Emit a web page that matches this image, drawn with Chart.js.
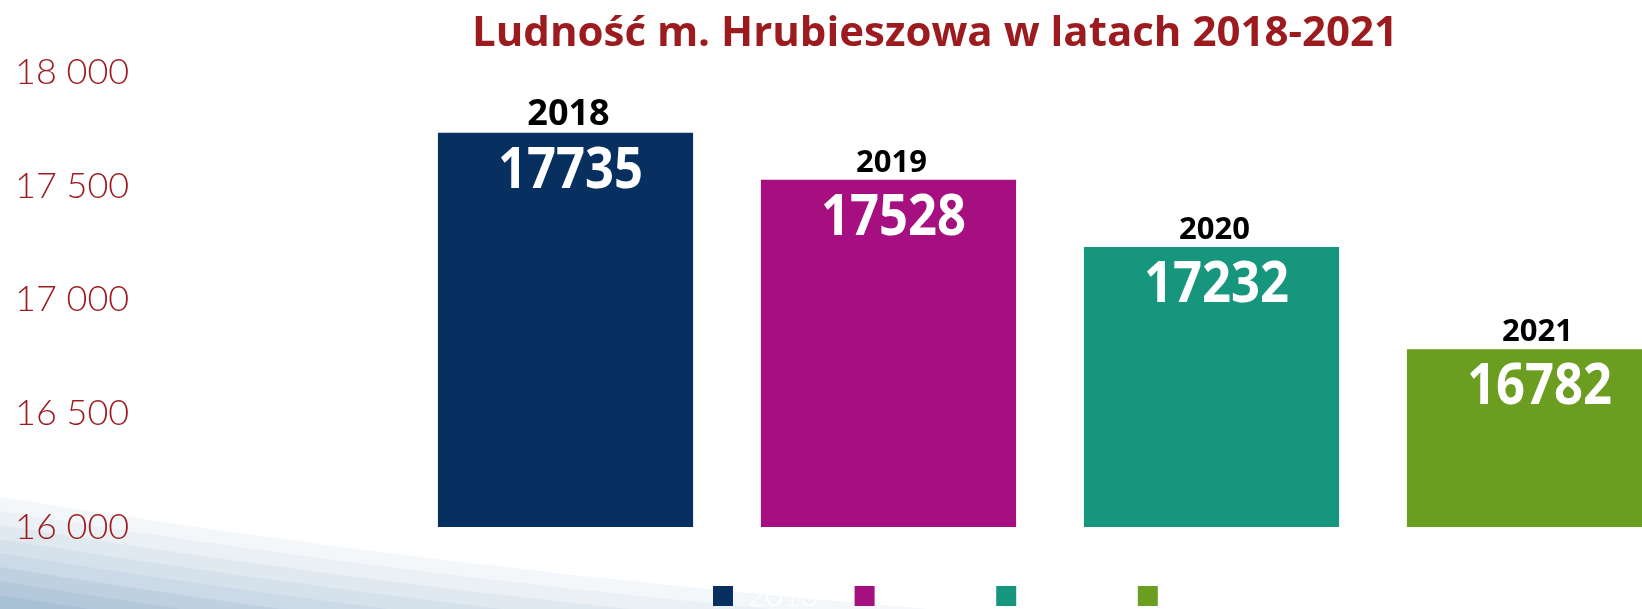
<!DOCTYPE html>
<html>
<head>
<meta charset="utf-8">
<script src="https://cdn.jsdelivr.net/npm/chart.js@4"></script>
<style>
  html, body { margin: 0; padding: 0; background: #fff; overflow: hidden; }
  #chart { position: absolute; left: 0; top: 0; }
</style>
</head>
<body>
<canvas id="chart" width="1700" height="609"></canvas>
<script>
// data
var years = ["2018", "2019", "2020", "2021"];
var population = [17735, 17528, 17232, 16782];
var yTicks = [16000, 16500, 17000, 17500, 18000];

// styling
var barColors = ["#073061", "#a60f80", "#16967d", "#6b9d20"];
var yearFontSize = [36, 31, 31, 31];
var darkRed = "#9b1b1f";

function spaced(v){
    return String(v).replace(/\B(?=(\d{3})+(?!\d))/g, " ");
}

// light blue slide swoosh in the bottom left corner
var swoosh = {
    id: "swoosh",
    beforeDraw: function(chart){
        var ctx = chart.ctx;
        var bands = ["#f4f7fa", "#ebf0f5", "#e1e9f0", "#d6e2eb", "#cbdae6", "#bfd1e0", "#b3c9db", "#a8c1d5"];
        var h = chart.height;
        ctx.save();
        bands.forEach(function(c, i){
            var d = 14 * i;
            ctx.beginPath();
            ctx.moveTo(0, 497 + d);
            ctx.quadraticCurveTo(450, 570 + d, 929, 609 + d);
            ctx.lineTo(0, h + 200);
            ctx.closePath();
            ctx.fillStyle = c;
            ctx.fill();
        });
        ctx.restore();
    }
};

// move title and legend to where the slide had them
var placeBoxes = {
    id: "placeBoxes",
    afterLayout: function(chart){
        var t = chart.titleBlock;
        var dx = 935 - (t.left + t.right) / 2;
        t.left += dx; t.right += dx;
        var lg = chart.legend;
        var pad = lg.options.labels.padding;
        lg.left = 713 - pad; lg.right = lg.left + lg.width;
        lg.top = 586 - pad - 5; lg.bottom = lg.top + lg.height;
    }
};

// year above bar, value inside bar top
var barLabels = {
    id: "barLabels",
    afterDatasetsDraw: function(chart){
        var ctx = chart.ctx;
        var meta = chart.getDatasetMeta(0);
        ctx.save();
        ctx.textAlign = "center";
        ctx.textBaseline = "alphabetic";
        meta.data.forEach(function(bar, i){
            ctx.fillStyle = "#000";
            ctx.font = "bold " + yearFontSize[i] + "px 'Open Sans'";
            ctx.fillText(years[i], bar.x + 3, bar.y - 8);
            ctx.fillStyle = "#fff";
            ctx.font = "bold 57px 'Open Sans'";
            ctx.fillText(String(population[i]), bar.x + 5, bar.y + 55, 145);
        });
        ctx.restore();
    }
};

new Chart(document.getElementById("chart"), {
    type: "bar",
    data: {
        labels: years,
        datasets: [{
            label: "Ludność",
            data: population,
            backgroundColor: barColors,
            borderWidth: 0,
            categoryPercentage: 1,
            barPercentage: 0.79
        }]
    },
    options: {
        responsive: false,
        animation: false,
        devicePixelRatio: 1,
        layout: { padding: { top: 0, left: 15, right: 4, bottom: 5 } },
        plugins: {
            title: {
                display: true,
                text: "Ludność m. Hrubieszowa w latach 2018-2021",
                color: darkRed,
                font: { family: "'Open Sans'", weight: "bold", size: 42 },
                padding: { top: 9, bottom: 13 }
            },
            legend: {
                display: true,
                position: "bottom",
                align: "start",
                onClick: null,
                labels: {
                    boxWidth: 20,
                    boxHeight: 20,
                    padding: 37,
                    color: "#ffffff",
                    font: { family: "Lato", weight: "300", size: 30 },
                    generateLabels: function(chart){
                        return years.map(function(y, i){
                            return { text: y, fillStyle: barColors[i], strokeStyle: barColors[i],
                                     lineWidth: 0, hidden: false, index: i, fontColor: "#ffffff" };
                        });
                    }
                }
            },
            tooltip: { enabled: false }
        },
        scales: {
            x: { display: false },
            y: {
                min: yTicks[0],
                max: yTicks[yTicks.length - 1],
                afterFit: function(s){ s.width = 389; },
                grid: { display: false },
                border: { display: false },
                ticks: {
                    stepSize: yTicks[1] - yTicks[0],
                    crossAlign: "far",
                    color: darkRed,
                    font: { family: "Lato", weight: "300", size: 36 },
                    callback: function(v){ return spaced(v); }
                }
            }
        }
    },
    plugins: [swoosh, placeBoxes, barLabels]
});
</script>
</body>
</html>
